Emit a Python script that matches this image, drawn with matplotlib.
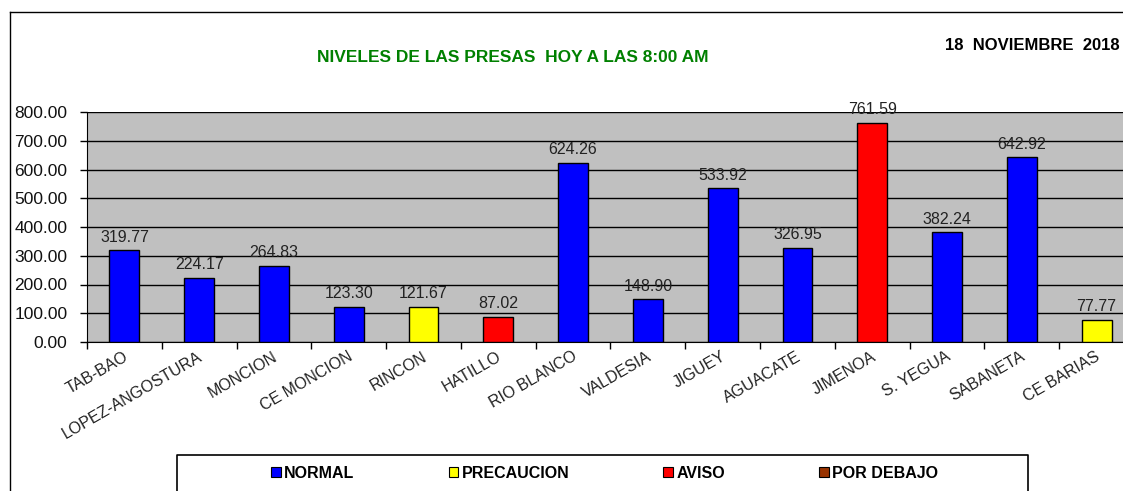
import matplotlib.pyplot as plt
from matplotlib.patches import Patch
from matplotlib.lines import Line2D

plt.rcParams['font.family'] = ['Liberation Sans', 'DejaVu Sans']

presas = ['TAB-BAO', 'LOPEZ-ANGOSTURA', 'MONCION', 'CE MONCION', 'RINCON',
          'HATILLO', 'RIO BLANCO', 'VALDESIA', 'JIGUEY', 'AGUACATE',
          'JIMENOA', 'S. YEGUA', 'SABANETA', 'CE BARIAS']
niveles = [319.77, 224.17, 264.83, 123.30, 121.67, 87.02, 624.26,
           148.90, 533.92, 326.95, 761.59, 382.24, 642.92, 77.77]
estado = ['NORMAL', 'NORMAL', 'NORMAL', 'NORMAL', 'PRECAUCION', 'AVISO',
          'NORMAL', 'NORMAL', 'NORMAL', 'NORMAL', 'AVISO', 'NORMAL',
          'NORMAL', 'PRECAUCION']
legend_labels = ['NORMAL', 'PRECAUCION', 'AVISO', 'POR DEBAJO']
colores = {'NORMAL': '#0000FF', 'PRECAUCION': '#FFFF00',
           'AVISO': '#FF0000', 'POR DEBAJO': '#993300'}
yticks = [0, 100, 200, 300, 400, 500, 600, 700, 800]

W, H = 1123, 491
fig = plt.figure(figsize=(W / 100, H / 100), dpi=100)
fig.patch.set_facecolor('white')

# outer frame of the chart object (left + top edges visible)
fig.add_artist(Line2D([10 / W, 10 / W], [0, 1 - 12 / H], color='black', lw=1))
fig.add_artist(Line2D([10 / W, 1], [1 - 12 / H, 1 - 12 / H], color='black', lw=1))

ax = fig.add_axes([87 / W, (H - 342) / H, (1134 - 87) / W, 230 / H])
ax.set_facecolor('#C0C0C0')
x = list(range(len(presas)))
ax.bar(x, niveles, width=0.4, color=[colores[e] for e in estado],
       edgecolor='black', linewidth=1, zorder=3)
for xi, v in zip(x, niveles):
    ax.annotate('%.2f' % v, (xi, v), xytext=(0, 4), textcoords='offset points',
                ha='center', va='bottom', fontsize=11.5, color='#222222')

ax.set_xlim(-0.5, len(presas) - 0.5)
ax.set_ylim(0, 800)
ax.set_yticks(yticks)
ax.set_yticklabels(['%.2f' % t for t in yticks], fontsize=12.5, color='#111111')
ax.yaxis.grid(True, color='black', lw=1, zorder=1)
ax.set_axisbelow(True)
ax.set_xticks([i + 0.5 for i in range(-1, len(presas))], minor=False)
ax.set_xticklabels([])
ax.tick_params(axis='x', length=5, direction='out', width=1)
ax.tick_params(axis='y', length=5, direction='out', width=1, pad=9)
for xi, name in zip(x, presas):
    ax.text(xi - 0.02, -24, name, rotation=30, rotation_mode='anchor',
            ha='right', va='top', fontsize=11.5, color='#222222')
for s in ['top', 'right']:
    ax.spines[s].set_visible(False)
ax.spines['left'].set_color('black')
ax.spines['bottom'].set_color('black')

fig.text(513 / W, 1 - 58 / H, 'NIVELES DE LAS PRESAS  HOY A LAS 8:00 AM',
         ha='center', va='center', color='#008000', fontweight='bold', fontsize=12.5)
fig.text(1120 / W, 1 - 45 / H, '18  NOVIEMBRE  2018', ha='right', va='center',
         color='black', fontweight='bold', fontsize=12)

# legend box
fig.add_artist(Line2D([177 / W, 177 / W, 1028 / W, 1028 / W],
                      [0, 1 - 455 / H, 1 - 455 / H, 0], color='black', lw=1.2))
handles = [Patch(facecolor=colores[k], edgecolor='black', lw=0.8) for k in legend_labels]
fig.legend(handles, legend_labels, ncol=4, frameon=False,
           loc='center left', bbox_to_anchor=(257 / W, 1 - 473 / H),
           handlelength=0.6, handleheight=0.6, handletextpad=0.2,
           columnspacing=5.9, prop={'weight': 'bold', 'size': 11.5})

fig.savefig('out.png', dpi=100)
